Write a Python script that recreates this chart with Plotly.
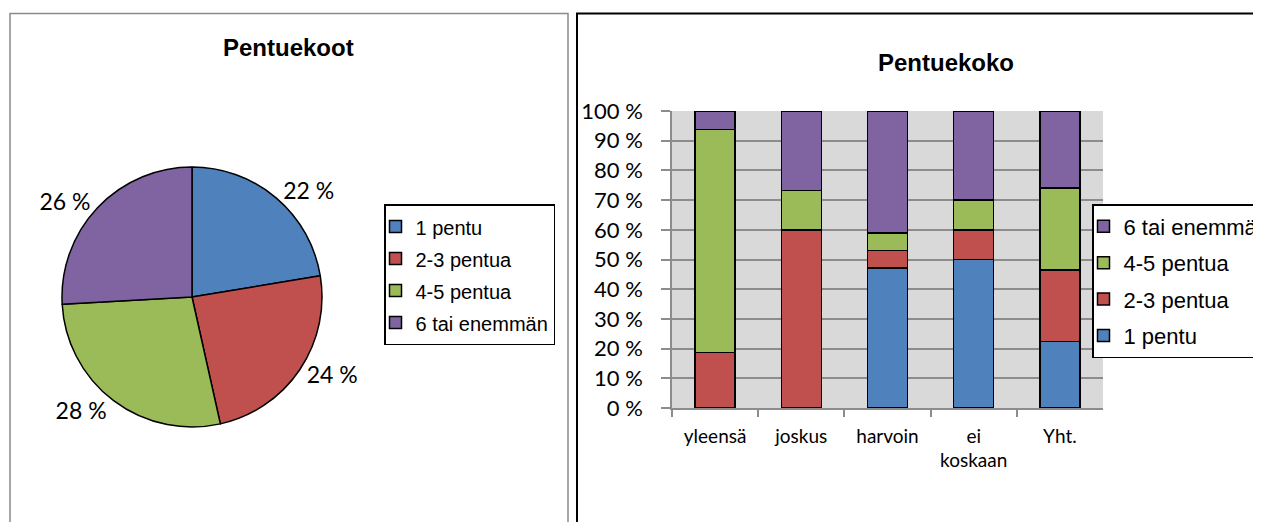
import plotly.graph_objects as go

# ---------------- data ----------------
series = ["1 pentu", "2-3 pentua", "4-5 pentua", "6 tai enemmän"]
colors = ["#4F81BD", "#C0504D", "#9BBB59", "#8064A2"]

pie_values = [22.4, 24.1, 27.6, 25.9]          # percent of all litters

categories = ["yleensä", "joskus", "harvoin", "ei koskaan", "Yht."]
tick_labels = ["yleensä", "joskus", "harvoin", "ei<br>koskaan", "Yht."]
val_1 = [0, 0, 47.1, 50, 22.4]
val_23 = [18.75, 60, 5.9, 10, 24.1]
val_45 = [75, 13.3, 5.9, 10, 27.6]
val_6 = [6.25, 26.7, 41.1, 30, 25.9]
bar_values = [val_1, val_23, val_45, val_6]

y_ticks = [0, 10, 20, 30, 40, 50, 60, 70, 80, 90, 100]

# ---------------- layout helpers ----------------
# the page body has an 8px margin, so the figure is 8px smaller than the window
OFF = 8
W, H = 1261 - OFF, 522 - OFF
def px(x):
    return (x - OFF) / W
def py(y):
    return 1 - (y - OFF) / H

CAL = "Lato, Carlito, Calibri, sans-serif"
ARI = "Arial, 'Liberation Sans', sans-serif"

fig = go.Figure()

# pie
fig.add_trace(go.Pie(
    labels=[f'<span style="font-size:20px">{s}</span>' for s in series],
    values=pie_values,
    sort=False,
    direction="clockwise",
    rotation=0,
    marker=dict(colors=colors, line=dict(color="black", width=1.5)),
    texttemplate="%{value:.0f} %",
    textposition="outside",
    textfont=dict(family=CAL, size=23, color="black"),
    domain=dict(x=[px(62), px(322)], y=[py(427), py(167)]),
    legend="legend",
    hoverinfo="label+percent",
))

# stacked bars
n = len(series)
for i, (name, col, vals) in enumerate(zip(series, colors, bar_values)):
    fig.add_trace(go.Bar(
        x=categories, y=vals, name=name,
        marker=dict(color=col, line=dict(color="black", width=1.5)),
        legend="legend2", legendgroup=name, legendrank=n - i,
    ))

fig.update_layout(
    width=W, height=H,
    margin=dict(l=0, r=0, t=0, b=0, autoexpand=False),
    paper_bgcolor="white",
    plot_bgcolor="#D9D9D9",
    barmode="stack",
    bargap=0.535,
    font=dict(family=CAL, color="black"),
    xaxis=dict(
        domain=[px(672), px(1103)],
        type="category",
        tickmode="array", tickvals=categories, ticktext=tick_labels,
        tickson="boundaries", ticks="outside", ticklen=7, tickcolor="#8C8C8C", tickwidth=1.5,
        showline=True, linecolor="#8C8C8C", linewidth=1.5,
        showgrid=False,
        tickfont=dict(family=CAL, size=19, color="black"),
        ticklabelstandoff=10,
        fixedrange=True,
    ),
    yaxis=dict(
        domain=[py(408), py(111)],
        range=[0, 100],
        tickmode="array", tickvals=y_ticks, ticktext=[f"{v} %" for v in y_ticks],
        ticks="outside", ticklen=9, tickcolor="#8C8C8C", tickwidth=1.5,
        showline=True, linecolor="#8C8C8C", linewidth=1.5,
        showgrid=True, gridcolor="#8C8C8C", gridwidth=1.5,
        zeroline=False,
        tickfont=dict(family=CAL, size=22, color="black"),
        ticklabelstandoff=14,
        fixedrange=True,
    ),
    legend=dict(
        x=px(384), y=py(204), xanchor="left", yanchor="top",
        bordercolor="black", borderwidth=1.5, bgcolor="white",
        font=dict(family=ARI, size=22.3, color="black"),
        traceorder="normal", indentation=-10,
    ),
    legend2=dict(
        x=px(1092), y=py(204), xanchor="left", yanchor="top",
        bordercolor="black", borderwidth=1.5, bgcolor="white",
        font=dict(family=ARI, size=22, color="black"),
        traceorder="grouped", tracegroupgap=4.8, indentation=-10,
    ),
    annotations=[
        dict(text="<b>Pentuekoot</b>", x=px(288), y=py(48), xref="paper", yref="paper",
             showarrow=False, font=dict(family=ARI, size=24, color="black"),
             xanchor="center", yanchor="middle"),
        dict(text="<b>Pentuekoko</b>", x=px(946), y=py(63), xref="paper", yref="paper",
             showarrow=False, font=dict(family=ARI, size=24, color="black"),
             xanchor="center", yanchor="middle"),
    ],
    shapes=[
        dict(type="rect", xref="paper", yref="paper",
             x0=px(10), x1=px(568), y0=py(540), y1=py(13.5),
             line=dict(color="#8A8A8A", width=1.5), layer="below"),
        dict(type="rect", xref="paper", yref="paper",
             x0=px(577), x1=px(1290), y0=py(540), y1=py(13.5),
             line=dict(color="black", width=2), layer="below"),
    ],
)

fig.write_html("out.html")
